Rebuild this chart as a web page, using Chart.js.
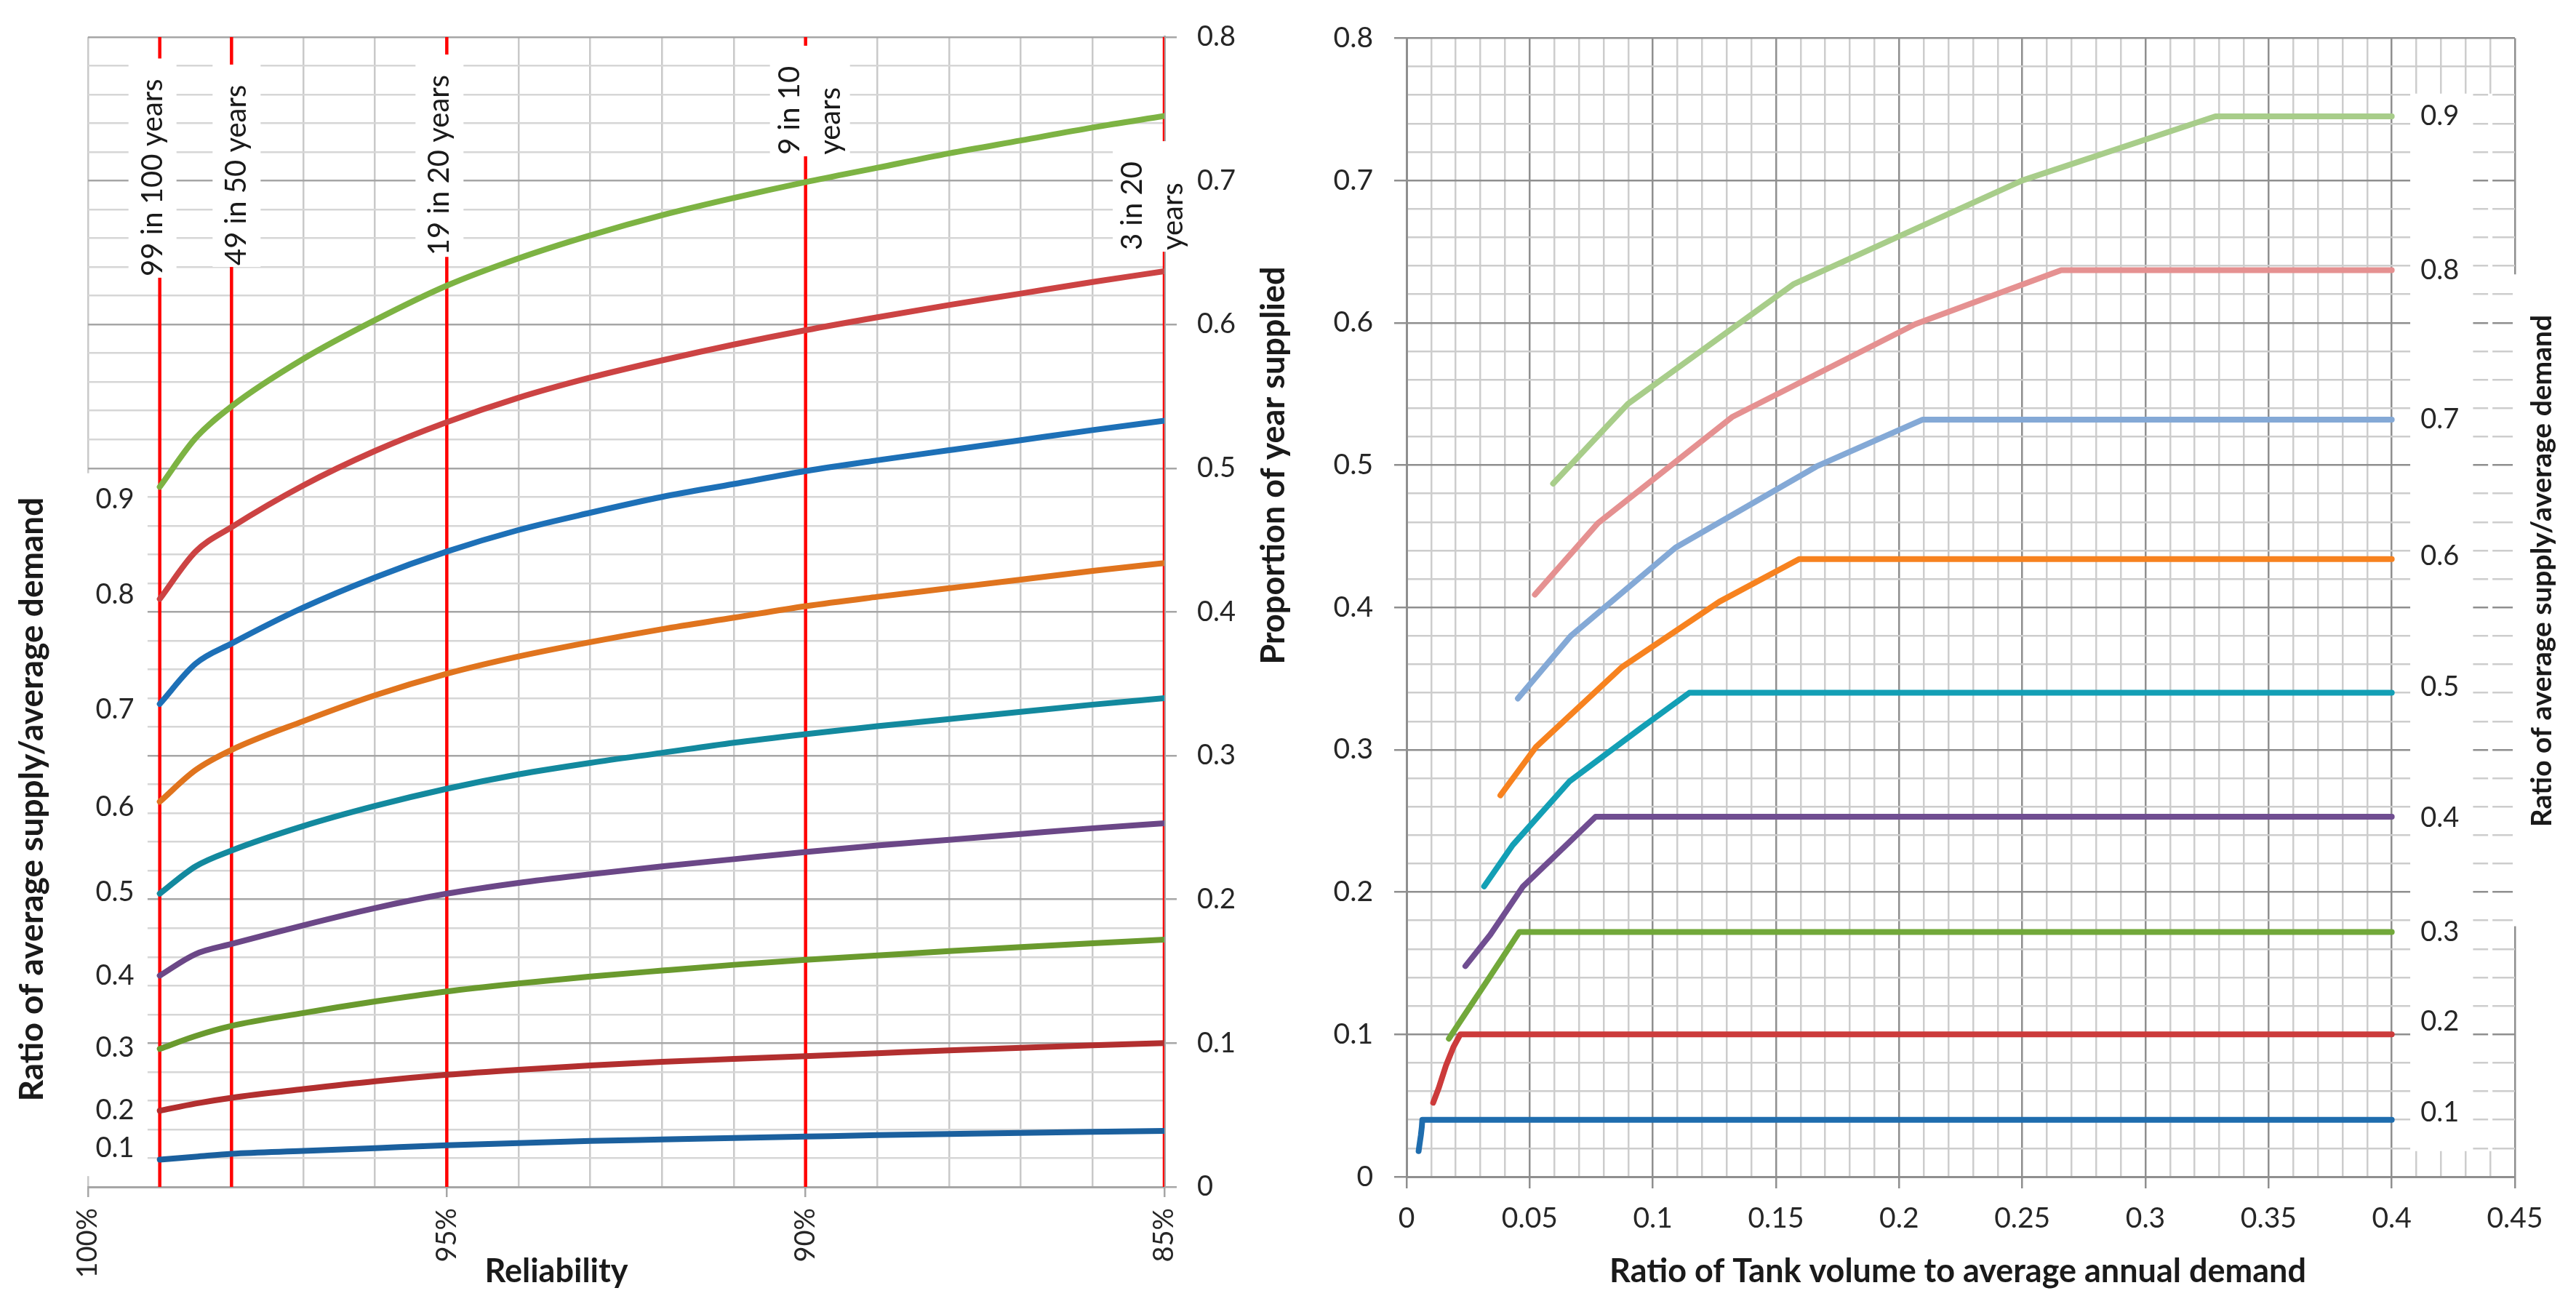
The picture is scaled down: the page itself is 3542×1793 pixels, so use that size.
<!DOCTYPE html>
<html>
<head>
<meta charset="utf-8">
<script src="https://cdn.jsdelivr.net/npm/chart.js@4.4.0/dist/chart.umd.min.js"></script>
<style>
  html, body { margin: 0; padding: 0; background: #fff; }
  #wrap { position: relative; width: 3542px; height: 1793px; overflow: hidden; background: #fff; }
  #left { position: absolute; left: 0; top: 0; }
  #right { position: absolute; left: 1720px; top: 0; }
</style>
</head>
<body>
<div id="wrap">
  <canvas id="left" width="1720" height="1793"></canvas>
  <canvas id="right" width="1822" height="1793"></canvas>
</div>
<script>
// ---- left panel: proportion of year supplied vs reliability ----
const reliability = [99, 98.5, 98, 97, 96, 95, 94, 93, 92, 91, 90, 89, 88, 87, 86, 85];
const supply01 = [0.019, 0.021, 0.023, 0.025, 0.027, 0.029, 0.0305, 0.032, 0.033, 0.034, 0.035, 0.036, 0.0368, 0.0376, 0.0383, 0.039];
const supply02 = [0.053, 0.058, 0.062, 0.068, 0.0735, 0.078, 0.0815, 0.0845, 0.087, 0.089, 0.091, 0.093, 0.095, 0.0968, 0.0985, 0.100];
const supply03 = [0.096, 0.105, 0.112, 0.121, 0.129, 0.136, 0.1415, 0.1463, 0.1505, 0.1545, 0.158, 0.161, 0.164, 0.1668, 0.1695, 0.172];
const supply04 = [0.147, 0.162, 0.169, 0.182, 0.194, 0.204, 0.2115, 0.2175, 0.223, 0.228, 0.233, 0.2375, 0.2415, 0.2455, 0.2495, 0.253];
const supply05 = [0.204, 0.223, 0.234, 0.251, 0.265, 0.277, 0.287, 0.295, 0.302, 0.309, 0.315, 0.3205, 0.3255, 0.3305, 0.3355, 0.340];
const supply06 = [0.268, 0.290, 0.304, 0.324, 0.342, 0.357, 0.369, 0.379, 0.388, 0.396, 0.404, 0.4105, 0.4165, 0.4225, 0.4285, 0.434];
const supply07 = [0.336, 0.364, 0.378, 0.403, 0.424, 0.442, 0.457, 0.469, 0.480, 0.489, 0.498, 0.5055, 0.5125, 0.5195, 0.5265, 0.533];
const supply08 = [0.409, 0.442, 0.459, 0.488, 0.512, 0.532, 0.549, 0.563, 0.575, 0.586, 0.596, 0.605, 0.6135, 0.6215, 0.6295, 0.637];
const supply09 = [0.487, 0.521, 0.543, 0.576, 0.603, 0.627, 0.646, 0.662, 0.676, 0.688, 0.699, 0.709, 0.719, 0.728, 0.737, 0.745];

const ratioLabels = ['0.1', '0.2', '0.3', '0.4', '0.5', '0.6', '0.7', '0.8', '0.9'];

// reference reliabilities marked with red lines
const markReliability = [99, 98, 95, 90, 85];
const markLabels = [['99 in 100 years'], ['49 in 50 years'], ['19 in 20 years'], ['9 in 10', 'years'], ['3 in 20', 'years']];

// ---- right panel: proportion of year supplied vs tank volume ----
const tank01 = [0.0049, 0.0053, 0.0058, 0.0062, 0.0064, 0.4];
const prop01 = [0.018, 0.023, 0.029, 0.035, 0.040, 0.040];
const tank02 = [0.0108, 0.013, 0.016, 0.019, 0.0218, 0.4];
const prop02 = [0.052, 0.062, 0.078, 0.091, 0.100, 0.100];
const tank03 = [0.0172, 0.0229, 0.0321, 0.0405, 0.0458, 0.4];
const prop03 = [0.097, 0.112, 0.136, 0.158, 0.172, 0.172];
const tank04 = [0.0239, 0.034, 0.0473, 0.0648, 0.0768, 0.4];
const prop04 = [0.148, 0.170, 0.204, 0.233, 0.253, 0.253];
const tank05 = [0.0315, 0.0431, 0.0663, 0.095, 0.1148, 0.4];
const prop05 = [0.204, 0.233, 0.278, 0.315, 0.340, 0.340];
const tank06 = [0.0381, 0.0526, 0.0874, 0.127, 0.1594, 0.4];
const prop06 = [0.268, 0.302, 0.358, 0.404, 0.434, 0.434];
const tank07 = [0.0452, 0.0667, 0.1092, 0.1664, 0.2096, 0.4];
const prop07 = [0.336, 0.380, 0.442, 0.499, 0.532, 0.532];
const tank08 = [0.0521, 0.0776, 0.1324, 0.2065, 0.2658, 0.4];
const prop08 = [0.409, 0.459, 0.534, 0.599, 0.637, 0.637];
const tank09 = [0.0595, 0.0899, 0.157, 0.25, 0.3284, 0.4];
const prop09 = [0.487, 0.543, 0.627, 0.700, 0.745, 0.745];

// ---- layout (not data) ----
const leftLabelPos = [0.027, 0.053, 0.097, 0.147, 0.205, 0.264, 0.332, 0.412, 0.478];
const rightLabelPos = [0.045, 0.109, 0.172, 0.252, 0.344, 0.436, 0.532, 0.637, 0.745];
const markTextBottom = [0.6335, 0.641, 0.648, 0.718, 0.6516];
const markDx = [-10, 7, -10, 6, -16];

const leftColors = ['#1B609E', '#B22F2F', '#6A9A2E', '#6B4787', '#13899E', '#E0741E', '#1D70B7', '#CC4343', '#7DB343'];
const rightColors = ['#1F6DAE', '#CC3B3B', '#72A83A', '#704E91', '#139FB5', '#F7821F', '#84A9D6', '#E59191', '#A8CD8A'];

Chart.defaults.font.family = 'Lato, "Open Sans", sans-serif';
Chart.defaults.color = '#262626';

const isStep = (v, s) => Math.abs(v / s - Math.round(v / s)) < 1e-6;
const toPoints = (xs, ys) => xs.map((x, i) => ({ x: x, y: ys[i] }));

function rotatedText(ctx, text, x, y, font) {
  ctx.save();
  ctx.translate(x, y);
  ctx.rotate(-Math.PI / 2);
  ctx.font = font;
  ctx.textAlign = 'center';
  ctx.textBaseline = 'middle';
  ctx.fillText(text, 0, 0);
  ctx.restore();
}

// ================= LEFT CHART =================
const leftCurves = [supply01, supply02, supply03, supply04, supply05, supply06, supply07, supply08, supply09];
const leftDatasets = leftCurves.map((vals, i) => ({
  data: toPoints(reliability, vals),
  showLine: true,
  borderColor: leftColors[i],
  borderWidth: 8,
  pointRadius: 0,
  cubicInterpolationMode: 'monotone',
  borderCapStyle: 'round',
  order: 0
}));
markReliability.forEach(r => {
  leftDatasets.push({
    data: [{ x: r, y: 0 }, { x: r, y: 0.8 }],
    showLine: true,
    borderColor: '#FF0000',
    borderWidth: 4.5,
    pointRadius: 0,
    order: 1
  });
});

const leftDecor = {
  id: 'leftDecor',
  afterDatasetsDraw(chart) {
    const { ctx, scales: { x, y } } = chart;
    ctx.save();
    // white panel behind ratio labels
    ctx.fillStyle = '#fff';
    const px0 = x.getPixelForValue(100) - 3;
    const px1 = x.getPixelForValue(99.17);
    const py0 = y.getPixelForValue(0.4965);
    const py1 = y.getPixelForValue(0.0075);
    ctx.fillRect(px0, py0, px1 - px0, py1 - py0);
    ctx.fillStyle = '#262626';
    ctx.font = '38px Lato';
    ctx.textAlign = 'center';
    ctx.textBaseline = 'middle';
    ratioLabels.forEach((t, i) => {
      ctx.fillText(t, x.getPixelForValue(99.625), y.getPixelForValue(leftLabelPos[i]));
    });

    // return-period annotations on the red lines
    ctx.font = '40px Lato';
    markReliability.forEach((r, i) => {
      const lines = markLabels[i];
      const cx = x.getPixelForValue(r) + markDx[i];
      const bottom = y.getPixelForValue(markTextBottom[i]);
      const len = Math.max(...lines.map(l => ctx.measureText(l).width));
      const half = (lines.length - 1) * 22 + 33;
      ctx.fillStyle = '#fff';
      ctx.fillRect(cx - half, bottom - len - 28, half * 2, len + 30);
      ctx.fillStyle = '#1a1a1a';
      ctx.save();
      ctx.translate(cx, bottom);
      ctx.rotate(-Math.PI / 2);
      ctx.textAlign = 'left';
      ctx.textBaseline = 'middle';
      lines.forEach((l, j) => {
        ctx.fillText(l, 0, (j - (lines.length - 1) / 2) * 56);
      });
      ctx.restore();
    });
    ctx.restore();
  },
  afterDraw(chart) {
    const { ctx } = chart;
    ctx.save();
    ctx.fillStyle = '#1a1a1a';
    rotatedText(ctx, 'Ratio of average supply/average demand', 44, 1099, 'bold 46px Lato');
    ctx.font = 'bold 45px Lato';
    ctx.textAlign = 'center';
    ctx.textBaseline = 'middle';
    ctx.fillText('Reliability', 765, 1748);
    ctx.restore();
  }
};

new Chart(document.getElementById('left'), {
  type: 'scatter',
  data: { datasets: leftDatasets },
  options: {
    responsive: false,
    animation: false,
    devicePixelRatio: 1,
    layout: { padding: { left: 121, top: 42, right: 0, bottom: 0 } },
    plugins: { legend: { display: false }, tooltip: { enabled: false } },
    scales: {
      x: {
        type: 'linear', min: 85, max: 100, reverse: true,
        afterFit: s => { s.height = 161; },
        ticks: {
          stepSize: 1, autoSkip: false, minRotation: 90, maxRotation: 90, padding: 15,
          font: { size: 38 },
          callback: v => isStep(v, 5) ? v + '%' : ''
        },
        grid: {
          color: '#C9C9C9', lineWidth: 2.5, tickLength: 14,
          tickColor: c => (c.tick && isStep(c.tick.value, 5)) ? '#A6A6A6' : 'rgba(0,0,0,0)'
        },
        border: { color: '#A6A6A6', width: 3 }
      },
      y: {
        position: 'right', min: 0, max: 0.8,
        afterFit: s => { s.width = 119; },
        ticks: {
          stepSize: 0.02, autoSkip: false, padding: 28,
          font: { size: 38 },
          callback: v => isStep(v, 0.1) ? String(Math.round(v * 10) / 10) : ''
        },
        grid: {
          color: c => (c.tick && isStep(c.tick.value, 0.1)) ? '#A6A6A6' : '#D6D6D6',
          lineWidth: 2.5, tickLength: 17,
          tickColor: c => (c.tick && isStep(c.tick.value, 0.1)) ? '#A6A6A6' : 'rgba(0,0,0,0)'
        },
        border: { color: '#A6A6A6', width: 3 }
      }
    }
  },
  plugins: [leftDecor]
});

// ================= RIGHT CHART =================
const tanks = [tank01, tank02, tank03, tank04, tank05, tank06, tank07, tank08, tank09];
const props = [prop01, prop02, prop03, prop04, prop05, prop06, prop07, prop08, prop09];
const rightDatasets = tanks.map((xs, i) => ({
  data: toPoints(xs, props[i]),
  showLine: true,
  borderColor: rightColors[i],
  borderWidth: 8,
  pointRadius: 0,
  borderCapStyle: 'round',
  borderJoinStyle: 'round'
}));

const rightDecor = {
  id: 'rightDecor',
  beforeDatasetsDraw(chart) {
    const { ctx, scales: { x, y } } = chart;
    ctx.save();
    ctx.fillStyle = '#fff';
    const yTop = y.getPixelForValue(0.761);
    const yBot = y.getPixelForValue(0.018);
    const bx0 = x.getPixelForValue(0.4075);
    const bx1 = x.getPixelForValue(0.433);
    ctx.fillRect(bx0, yTop, bx1 - bx0, yBot - yTop);
    const g44 = x.getPixelForValue(0.44);
    ctx.fillRect(g44 - 3, yTop, 6, yBot - yTop);
    const g45 = x.getPixelForValue(0.45);
    const t0 = y.getPixelForValue(0.634), t1 = y.getPixelForValue(0.176);
    ctx.fillRect(g45 - 3, t0, 8, t1 - t0);

    ctx.fillStyle = '#262626';
    ctx.font = '38px Lato';
    ctx.textAlign = 'center';
    ctx.textBaseline = 'middle';
    ratioLabels.forEach((t, i) => {
      ctx.fillText(t, x.getPixelForValue(0.4195), y.getPixelForValue(rightLabelPos[i]));
    });
    ctx.restore();
  },
  afterDraw(chart) {
    const { ctx } = chart;
    ctx.save();
    ctx.fillStyle = '#1a1a1a';
    rotatedText(ctx, 'Proportion of year supplied', 31, 640, 'bold 45px Lato');
    rotatedText(ctx, 'Ratio of average supply/average demand', 1775, 785, 'bold 39px Lato');
    ctx.font = 'bold 45px Lato';
    ctx.textAlign = 'center';
    ctx.textBaseline = 'middle';
    ctx.fillText('Ratio of Tank volume to average annual demand', 972, 1748);
    ctx.restore();
  }
};

new Chart(document.getElementById('right'), {
  type: 'scatter',
  data: { datasets: rightDatasets },
  options: {
    responsive: false,
    animation: false,
    devicePixelRatio: 1,
    layout: { padding: { left: 0, top: 36, right: 84, bottom: 0 } },
    plugins: { legend: { display: false }, tooltip: { enabled: false } },
    scales: {
      x: {
        type: 'linear', min: 0, max: 0.45,
        afterFit: s => { s.height = 175; },
        ticks: {
          stepSize: 0.01, autoSkip: false, maxRotation: 0, minRotation: 0, padding: 18,
          font: { size: 39 },
          callback: v => isStep(v, 0.05) ? String(+v.toFixed(2)) : ''
        },
        grid: {
          color: c => (c.tick && isStep(c.tick.value, 0.05)) ? '#8F8F8F' : '#CDCDCD',
          lineWidth: 2.5, tickLength: 16,
          tickColor: c => (c.tick && isStep(c.tick.value, 0.05)) ? '#8F8F8F' : 'rgba(0,0,0,0)'
        },
        border: { color: '#8F8F8F', width: 3 }
      },
      y: {
        position: 'left', min: 0, max: 0.8,
        afterFit: s => { s.width = 214; },
        ticks: {
          stepSize: 0.02, autoSkip: false, padding: 29,
          font: { size: 39 },
          callback: v => isStep(v, 0.1) ? String(Math.round(v * 10) / 10) : ''
        },
        grid: {
          color: c => (c.tick && isStep(c.tick.value, 0.1)) ? '#8F8F8F' : '#CDCDCD',
          lineWidth: 2.5, tickLength: 17,
          tickColor: c => (c.tick && isStep(c.tick.value, 0.1)) ? '#8F8F8F' : 'rgba(0,0,0,0)'
        },
        border: { color: '#8F8F8F', width: 3 }
      }
    }
  },
  plugins: [rightDecor]
});
</script>
</body>
</html>
